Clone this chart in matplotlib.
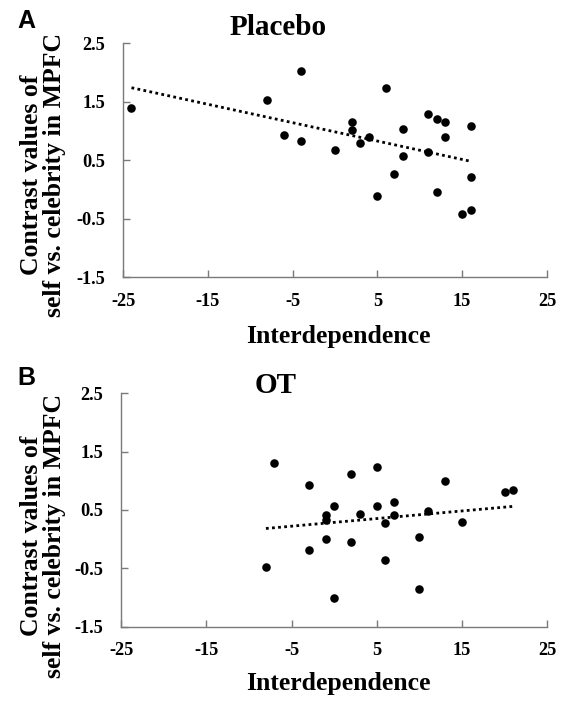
import numpy as np
import matplotlib
matplotlib.use('Agg')
from matplotlib import pyplot as plt

# Panel A - Placebo
placebo_x = [-24, -8, -4, -6, -4, 0, 2, 2, 3, 4, 6, 5, 7, 8, 8,
             11, 11, 12, 12, 13, 13, 16, 16, 15, 16]
placebo_y = [1.40, 1.53, 2.03, 0.94, 0.83, 0.68, 1.16, 1.01, 0.79, 0.89, 1.73, -0.11, 0.26, 1.04, 0.57,
             1.29, 0.65, 1.20, -0.04, 1.16, 0.89, 1.09, 0.22, -0.42, -0.35]

# Panel B - OT
ot_x = [-8, -7, -3, -3, -1, -1, -1, 0, 0, 2, 2, 3, 5, 5, 6, 6, 7, 7,
        10, 10, 11, 13, 15, 20, 21]
ot_y = [-0.48, 1.30, 0.93, -0.18, 0.42, 0.33, 0.00, 0.56, -1.01, 1.11, -0.04, 0.43, 1.24, 0.56, 0.28, -0.35, 0.63, 0.41,
        0.03, -0.85, 0.49, 0.99, 0.30, 0.81, 0.84]

xticks = [-25, -15, -5, 5, 15, 25]
yticks = [-1.5, -0.5, 0.5, 1.5, 2.5]
ylabel = 'Contrast values of\nself vs. celebrity in MPFC'

W, H = 564, 701
fig = plt.figure(figsize=(W / 100, H / 100), dpi=100)
serif = 'Liberation Serif'
gray = '#7a7a7a'


def px(x, y):
    return x / W, 1 - y / H


def panel(rect, xs, ys):
    ax = fig.add_axes(rect)
    ax.scatter(xs, ys, s=38, color='black', zorder=3, linewidths=0)
    k, b = np.polyfit(xs, ys, 1)
    lx = np.array([min(xs), max(xs)])
    ax.plot(lx, k * lx + b, color='black', linestyle=(0, (1, 1.2)), linewidth=2.0)
    ax.set_xlim(-25, 25)
    ax.set_ylim(-1.5, 2.5)
    ax.set_xticks(xticks)
    ax.set_yticks(yticks)
    ax.set_xticklabels([str(t) for t in xticks])
    ax.set_yticklabels([str(t) for t in yticks])
    for s in ['top', 'right']:
        ax.spines[s].set_visible(False)
    for s in ['left', 'bottom']:
        ax.spines[s].set_color(gray)
        ax.spines[s].set_linewidth(1.0)
    ax.tick_params(axis='both', direction='in', length=5, width=1.0, color=gray,
                   labelsize=13.2)
    ax.tick_params(axis='y', pad=13)
    ax.tick_params(axis='x', pad=11)
    for lab in ax.get_xticklabels() + ax.get_yticklabels():
        lab.set_fontfamily(serif)
        lab.set_fontweight('bold')
    return ax


axA = panel([123 / W, 1 - 277.3 / H, 424 / W, 234 / H], placebo_x, placebo_y)
axB = panel([121 / W, 1 - 626.7 / H, 426.3 / W, 233.4 / H], ot_x, ot_y)

fig.text(*px(17, 28), 'A', family='Liberation Sans', weight='bold', fontsize=18)
fig.text(*px(17, 385), 'B', family='Liberation Sans', weight='bold', fontsize=18)
fig.text(*px(278, 35), 'Placebo', family=serif, weight='bold', fontsize=21,
         ha='center', va='baseline')
fig.text(*px(276, 393), 'OT', family=serif, weight='bold', fontsize=21,
         ha='center', va='baseline')
for yb in [343, 690]:
    fig.text(*px(338, yb), 'Interdependence', family=serif, weight='bold',
             fontsize=18.5, ha='center', va='baseline')
for yc in [175, 536]:
    fig.text(*px(43, yc), ylabel, family=serif, weight='bold', fontsize=18.5,
             ha='center', va='center', rotation=90, multialignment='center',
             linespacing=1.0)

fig.savefig('out.png', dpi=100)
